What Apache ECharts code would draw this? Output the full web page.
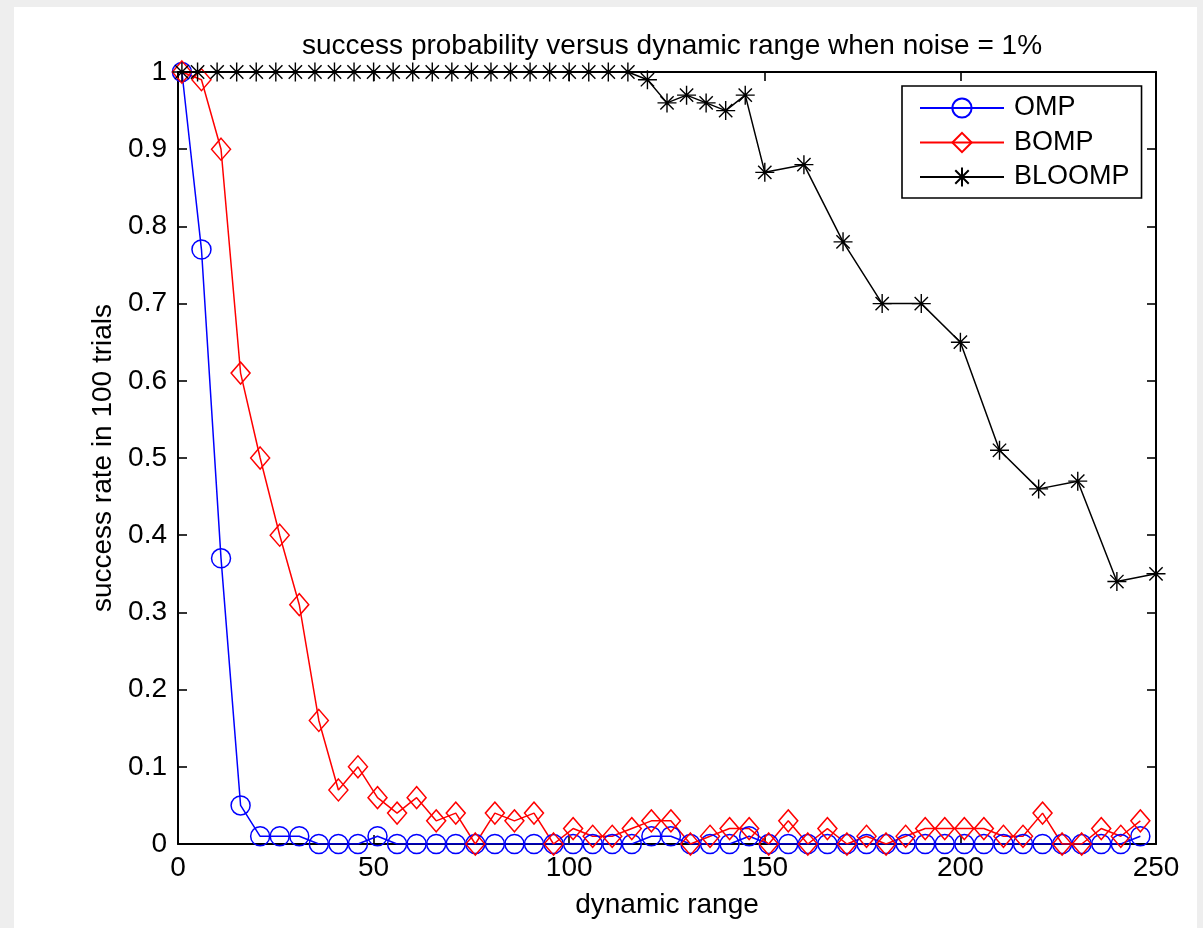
<!DOCTYPE html>
<html>
<head>
<meta charset="utf-8">
<script src="https://cdn.jsdelivr.net/npm/echarts@6/dist/echarts.min.js"></script>
<style>
  html, body { margin: 0; padding: 0; width: 1203px; height: 928px; background: #eeeeee; overflow: hidden; }
  #panel { position: absolute; left: 14px; top: 7px; width: 1183px; height: 921px; background: #ffffff; }
  #chart { position: absolute; left: 0; top: 0; width: 1203px; height: 928px; }
</style>
</head>
<body>
<div id="panel"></div>
<div id="chart"></div>
<script>
// ---- data ----
const titleText = 'success probability versus dynamic range when noise = 1%';
const xLabel = 'dynamic range';
const yLabel = 'success rate in 100 trials';
const seriesNames = ['OMP', 'BOMP', 'BLOOMP'];

// OMP and BOMP sampled at 1, 6, 11, ..., 246
const xOMP = [1, 6, 11, 16, 21, 26, 31, 36, 41, 46, 51, 56, 61, 66, 71, 76, 81, 86, 91, 96,
  101, 106, 111, 116, 121, 126, 131, 136, 141, 146, 151, 156, 161, 166, 171, 176, 181, 186, 191, 196,
  201, 206, 211, 216, 221, 226, 231, 236, 241, 246];
const yOMP = [1.00, 0.77, 0.37, 0.05, 0.01, 0.01, 0.01, 0.00, 0.00, 0.00, 0.01, 0.00, 0.00, 0.00, 0.00, 0.00, 0.00, 0.00, 0.00, 0.00,
  0.00, 0.00, 0.00, 0.00, 0.01, 0.01, 0.00, 0.00, 0.00, 0.01, 0.00, 0.00, 0.00, 0.00, 0.00, 0.00, 0.00, 0.00, 0.00, 0.00,
  0.00, 0.00, 0.00, 0.00, 0.00, 0.00, 0.00, 0.00, 0.00, 0.01];
const yBOMP = [1.00, 0.99, 0.90, 0.61, 0.50, 0.40, 0.31, 0.16, 0.07, 0.10, 0.06, 0.04, 0.06, 0.03, 0.04, 0.00, 0.04, 0.03, 0.04, 0.00,
  0.02, 0.01, 0.01, 0.02, 0.03, 0.03, 0.00, 0.01, 0.02, 0.02, 0.00, 0.03, 0.00, 0.02, 0.00, 0.01, 0.00, 0.01, 0.02, 0.02,
  0.02, 0.02, 0.01, 0.01, 0.04, 0.00, 0.00, 0.02, 0.01, 0.03];

// BLOOMP sampled at 1, 5, 10, ..., 150, 160, ..., 250
const xBLOOMP = [1, 5, 10, 15, 20, 25, 30, 35, 40, 45, 50, 55, 60, 65, 70, 75, 80, 85, 90, 95,
  100, 105, 110, 115, 120, 125, 130, 135, 140, 145, 150, 160, 170, 180, 190, 200, 210, 220, 230, 240, 250];
const yBLOOMP = [1.00, 1.00, 1.00, 1.00, 1.00, 1.00, 1.00, 1.00, 1.00, 1.00, 1.00, 1.00, 1.00, 1.00, 1.00, 1.00, 1.00, 1.00, 1.00, 1.00,
  1.00, 1.00, 1.00, 1.00, 0.99, 0.96, 0.97, 0.96, 0.95, 0.97, 0.87, 0.88, 0.78, 0.70, 0.70, 0.65, 0.51, 0.46, 0.47, 0.34, 0.35];

const xTicks = { min: 0, max: 250, interval: 50 };
const yTicks = { min: 0, max: 1, interval: 0.1 };

// ---- build ----
const pair = (xs, ys) => xs.map((x, i) => [x, ys[i]]);
const FONT = 'Liberation Sans, Arial, Helvetica, sans-serif';
const FS = 28;
const starPath = 'path://M10,0L10,20M0,10L20,10M3,3L17,17M3,17L17,3';

const chart = echarts.init(document.getElementById('chart'), null, { renderer: 'canvas' });

const axisCommon = {
  axisLine: { show: true, onZero: false, lineStyle: { color: '#000', width: 2 } },
  axisTick: { show: true, inside: true, length: 9, lineStyle: { color: '#000', width: 1.6 } },
  splitLine: { show: false }
};

chart.setOption({
  animation: false,
  backgroundColor: 'transparent',
  textStyle: { fontFamily: FONT },
  title: {
    text: titleText,
    left: 667,
    top: 26,
    textAlign: 'center',
    textStyle: { fontFamily: FONT, fontSize: FS, fontWeight: 'normal', color: '#000', lineHeight: 30 }
  },
  grid: { left: 178, top: 72, width: 978, height: 772, containLabel: false },
  legend: {
    data: seriesNames,
    orient: 'vertical',
    left: 902,
    top: 86,
    padding: [8, 12, 7, 17],
    itemGap: 6.5,
    itemWidth: 84,
    itemHeight: 24,
    borderColor: '#000',
    borderWidth: 1.6,
    backgroundColor: '#fff',
    textStyle: { fontFamily: FONT, fontSize: 27, color: '#000', lineHeight: 28, padding: [0, 0, 0, 5] }
  },
  xAxis: [
    Object.assign({
      type: 'value', position: 'bottom',
      min: xTicks.min, max: xTicks.max, interval: xTicks.interval,
      name: xLabel, nameLocation: 'middle', nameGap: 47,
      nameTextStyle: { fontFamily: FONT, fontSize: FS, color: '#000', lineHeight: 28 },
      axisLabel: { show: true, margin: 10, fontFamily: FONT, fontSize: FS, color: '#000' }
    }, axisCommon),
    Object.assign({
      type: 'value', position: 'top',
      min: xTicks.min, max: xTicks.max, interval: xTicks.interval,
      axisLabel: { show: false }
    }, axisCommon)
  ],
  yAxis: [
    Object.assign({
      type: 'value', position: 'left',
      min: yTicks.min, max: yTicks.max, interval: yTicks.interval,
      name: yLabel, nameLocation: 'middle', nameGap: 59, nameRotate: 90,
      nameTextStyle: { fontFamily: FONT, fontSize: FS, color: '#000', lineHeight: 28 },
      axisLabel: { show: true, margin: 11, fontFamily: FONT, fontSize: FS, color: '#000' }
    }, axisCommon),
    Object.assign({
      type: 'value', position: 'right',
      min: yTicks.min, max: yTicks.max, interval: yTicks.interval,
      axisLabel: { show: false }
    }, axisCommon)
  ],
  series: [
    {
      name: seriesNames[0], type: 'line', xAxisIndex: 0, yAxisIndex: 0,
      data: pair(xOMP, yOMP),
      symbol: 'circle', symbolSize: 19, showAllSymbol: true,
      lineStyle: { color: '#0000ff', width: 1.5 },
      itemStyle: { color: 'rgba(0,0,0,0)', borderColor: '#0000ff', borderWidth: 1.5 },
      emphasis: { disabled: true }
    },
    {
      name: seriesNames[1], type: 'line', xAxisIndex: 0, yAxisIndex: 0,
      data: pair(xOMP, yBOMP),
      symbol: 'diamond', symbolSize: [19, 22], showAllSymbol: true,
      lineStyle: { color: '#ff0000', width: 1.5 },
      itemStyle: { color: 'rgba(0,0,0,0)', borderColor: '#ff0000', borderWidth: 1.5 },
      emphasis: { disabled: true }
    },
    {
      name: seriesNames[2], type: 'line', xAxisIndex: 0, yAxisIndex: 0,
      data: pair(xBLOOMP, yBLOOMP),
      symbol: starPath, symbolSize: 19, showAllSymbol: true,
      lineStyle: { color: '#000000', width: 1.5 },
      itemStyle: { color: '#000000', borderColor: '#000000', borderWidth: 1.4 },
      emphasis: { disabled: true }
    }
  ]
});
</script>
</body>
</html>
